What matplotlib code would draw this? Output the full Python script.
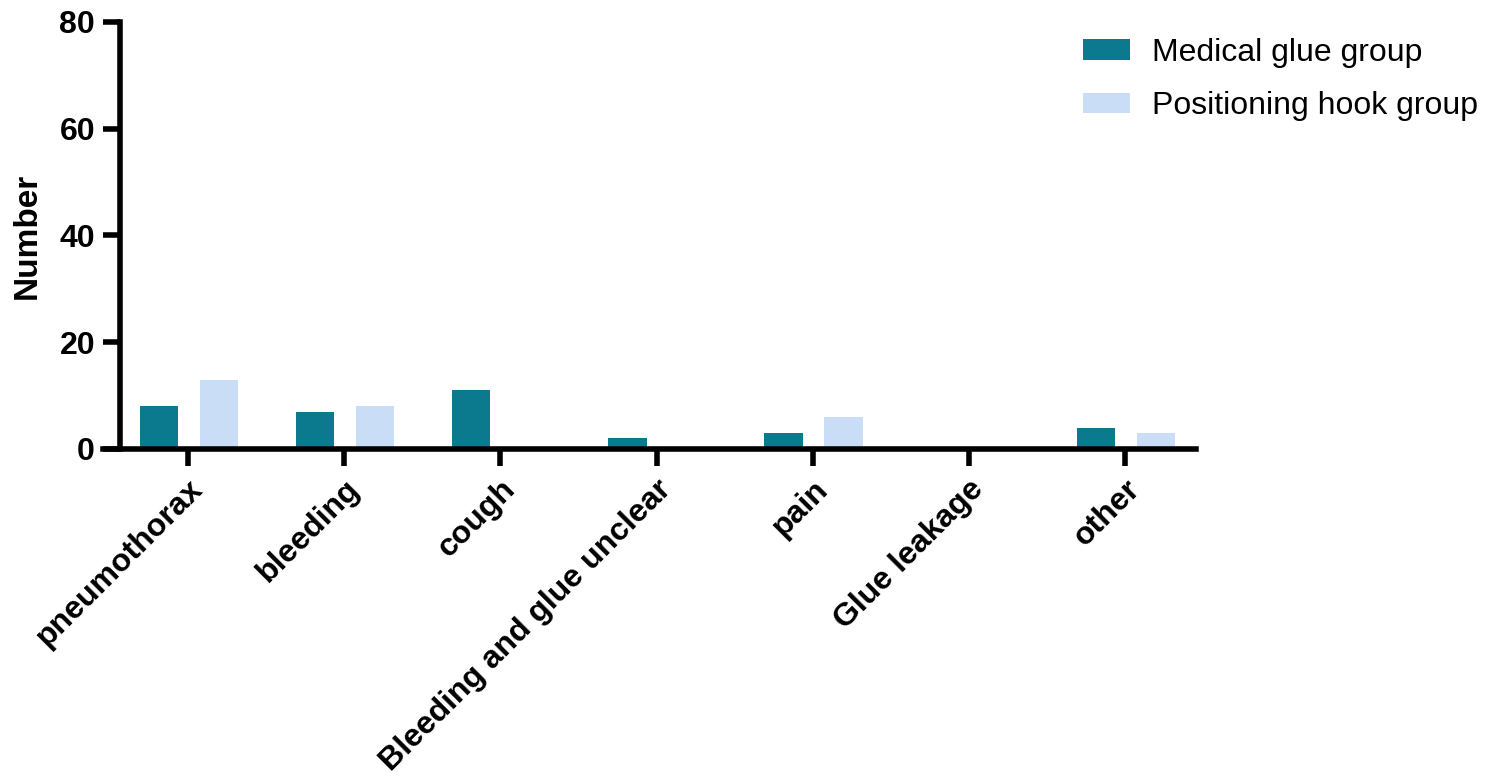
import numpy as np
import matplotlib

matplotlib.use("Agg")
import matplotlib.pyplot as plt

# ---- data ----
categories = ["pneumothorax", "bleeding", "cough", "Bleeding and glue unclear",
              "pain", "Glue leakage", "other"]
glue_group = [8, 7, 11, 2, 3, 0, 4]
hook_group = [13, 8, 0, 0, 6, 0, 3]
series_names = ["Medical glue group", "Positioning hook group"]
y_ticks = [0, 20, 40, 60, 80]

DARK = "#0B7A8F"
LIGHT = "#C9DDF6"

plt.rcParams["font.family"] = ["Liberation Sans", "DejaVu Sans"]

fig = plt.figure(figsize=(14.96, 7.84), dpi=100)
ax = fig.add_axes([0.0689, 0.4273, 0.7306, 0.5447])

x = np.arange(len(categories))
width = 0.245
ax.bar(x - 0.186, glue_group, width, color=DARK, label=series_names[0])
ax.bar(x + 0.198, hook_group, width, color=LIGHT, label=series_names[1])

# y axis sits a little inside the left edge so the x axis pokes out (Prism style)
ax.set_xlim(-0.544, 6.455)
ax.spines["left"].set_position(("data", -0.435))
ax.set_ylim(0, 80)
ax.set_yticks(y_ticks)
ax.set_xticks(x)
ax.set_xticklabels(categories, rotation=45, ha="right", rotation_mode="anchor",
                   fontsize=23, fontweight="bold")
for lbl in ax.get_yticklabels():
    lbl.set_fontsize(23)
    lbl.set_fontweight("bold")
ax.set_ylabel("Number", fontsize=24, fontweight="bold", labelpad=12)

for side in ("top", "right"):
    ax.spines[side].set_visible(False)
for side in ("left", "bottom"):
    ax.spines[side].set_linewidth(4)
ax.tick_params(axis="both", width=4, length=12, pad=6)

fig.legend(loc="upper left", bbox_to_anchor=(0.724, 0.952), frameon=False,
           fontsize=23, handlelength=1.47, handleheight=0.6, labelspacing=0.73,
           handletextpad=0.7, borderpad=0, borderaxespad=0)

fig.savefig("out.png", dpi=100)
plt.close(fig)
